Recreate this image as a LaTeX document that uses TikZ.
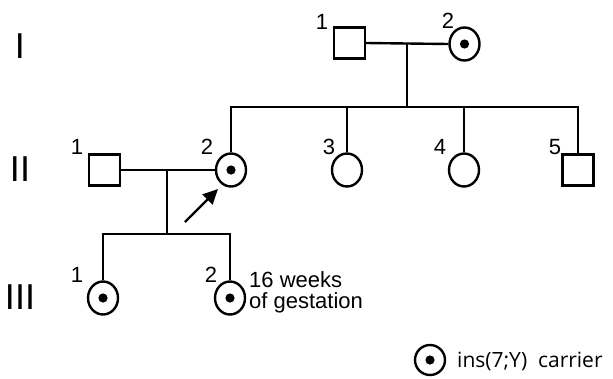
\documentclass[tikz,border=0pt]{standalone}
\usepackage{fontspec}
\setmainfont{Liberation Sans}
\newfontfamily\legendfont{Open Sans}
\usetikzlibrary{arrows.meta,shapes.geometric}
\begin{document}
\begin{tikzpicture}[x=1pt,y=-1pt,
  lw/.style={line width=2.4pt},
  male/.style={draw,lw,rectangle,minimum width=31pt,minimum height=31pt,inner sep=0pt},
  female/.style={draw,lw,ellipse,minimum width=30pt,minimum height=33pt,inner sep=0pt},
  carrier/.style={female,path picture={\fill (path picture bounding box.center) circle (4.6pt);}},
  num/.style={font=\fontsize{22}{22}\selectfont,inner sep=0pt},
  gen/.style={font=\fontsize{36}{36}\selectfont,inner sep=0pt},
  conn/.style={lw}]
\useasboundingbox (0,0) rectangle (613,378);
% generation labels
\node[gen] (gI) at (20,46) {I};
\node[gen] (gII) at (20,169) {II};
\node[gen] (gIII) at (20,297) {III};
% generation I
\node[male] (i1) at (349.5,43) {};
\node[carrier] (i2) at (464.5,44) {};
\node[num] (li1) at (322,22) {1};
\node[num] (li2) at (448,21) {2};
\coordinate (mI) at (407,43);
\coordinate (sI) at (407,107);
\draw[conn] (i1.east) -- (i2.west);
\draw[conn] (mI) -- (sI);
% generation II
\node[male] (ii1) at (104.5,170) {};
\node[carrier] (ii2) at (231,170) {};
\node[female] (ii3) at (347,170) {};
\node[female] (ii4) at (464,170) {};
\node[male] (ii5) at (578,170) {};
\node[num] (lii1) at (77,147) {1};
\node[num] (lii2) at (207,147) {2};
\node[num] (lii3) at (329,147) {3};
\node[num] (lii4) at (440,147) {4};
\node[num] (lii5) at (555,147) {5};
\draw[conn] (ii2.north) -- (ii2.north |- sI) -- (ii5.north |- sI) -- (ii5.north);
\draw[conn] (ii3.north) -- (ii3.north |- sI);
\draw[conn] (ii4.north) -- (ii4.north |- sI);
% marriage II
\coordinate (mII) at (167,170);
\coordinate (sII) at (167,234);
\draw[conn] (ii1.east) -- (ii2.west);
\draw[conn] (mII) -- (sII);
% generation III
\node[carrier] (iii1) at (103,298) {};
\node[carrier] (iii2) at (230,298) {};
\node[num] (liii1) at (77,275) {1};
\node[num] (liii2) at (211,275) {2};
\draw[conn] (iii1.north) |- (sII) -| (iii2.north);
% annotation
\node[num,anchor=west] (w1) at (249,280) {16 weeks};
\node[num,anchor=west] (w2) at (249,303) {of gestation};
% proband arrow
\coordinate (ar) at (185,222);
\coordinate (at) at (218,189);
\draw[lw,-{Triangle[length=15pt,width=14pt]}] (ar) -- (at);
% legend
\node[carrier,minimum width=30pt,minimum height=30pt] (lg) at (430,360) {};
\node[anchor=west,inner sep=0pt,font=\legendfont\fontsize{21}{21}\selectfont] (lgt) at (457,361) {ins(7;Y)\ \ carrier};
\end{tikzpicture}
\end{document}
